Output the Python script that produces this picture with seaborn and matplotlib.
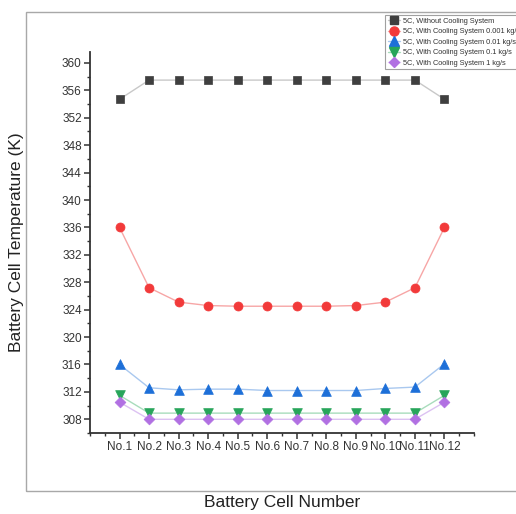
import numpy as np
import pandas as pd
import matplotlib
matplotlib.use("Agg")
import matplotlib.pyplot as plt
from matplotlib.lines import Line2D
from matplotlib.patches import Rectangle
from matplotlib.ticker import MultipleLocator
import seaborn as sns

# Cell labels along the pack
cells = ["No.1", "No.2", "No.3", "No.4", "No.5", "No.6",
         "No.7", "No.8", "No.9", "No.10", "No.11", "No.12"]

# Temperature (K) of each cell at 5C discharge
no_cooling = [354.7, 357.5, 357.5, 357.5, 357.5, 357.5,
              357.5, 357.5, 357.5, 357.5, 357.5, 354.7]
cooling_0001 = [336.0, 327.2, 325.1, 324.6, 324.5, 324.5,
                324.5, 324.5, 324.6, 325.1, 327.2, 336.0]
cooling_001 = [316.0, 312.6, 312.3, 312.4, 312.4, 312.2,
               312.2, 312.2, 312.2, 312.5, 312.7, 316.1]
cooling_01 = [311.5, 308.9, 308.9, 308.9, 308.9, 308.9,
              308.9, 308.9, 308.9, 308.9, 308.9, 311.5]
cooling_1 = [310.5, 308.0, 308.0, 308.0, 308.0, 308.0,
             308.0, 308.0, 308.0, 308.0, 308.0, 310.5]

series_names = ["5C, Without Cooling System",
                "5C, With Cooling System 0.001 kg/s",
                "5C, With Cooling System 0.01 kg/s",
                "5C, With Cooling System 0.1 kg/s",
                "5C, With Cooling System 1 kg/s"]
series_values = [no_cooling, cooling_0001, cooling_001, cooling_01, cooling_1]

# (marker colour, line colour, marker shape, marker size)
styles = [("#3f3f3f", "#c8c8c8", "s", 6.0),
          ("#f23a3a", "#f7a6a6", "o", 6.5),
          ("#1d6fd8", "#a9c8ef", "^", 7.0),
          ("#27a55a", "#a8dcbc", "v", 7.0),
          ("#b170e2", "#dcc2f2", "D", 5.5)]

x_pos = np.arange(1, len(cells) + 1)
frames = []
for name, vals in zip(series_names, series_values):
    frames.append(pd.DataFrame({"pos": x_pos, "temp": vals, "series": name}))
df = pd.concat(frames, ignore_index=True)

sns.set_style("ticks")
plt.rcParams["font.family"] = ["Liberation Sans", "DejaVu Sans"]

fig = plt.figure(figsize=(5.16, 5.14), dpi=100)
ax = fig.add_axes([90 / 516, 1 - 433 / 514, 384 / 516, 381 / 514])

handles = []
for name, (mc, lc, mk, ms) in zip(series_names, styles):
    sub = df[df["series"] == name]
    sns.lineplot(data=sub, x="pos", y="temp", ax=ax, color=lc,
                 linewidth=1.0, legend=False, zorder=2)
    sns.scatterplot(data=sub, x="pos", y="temp", ax=ax, color=mc,
                    marker=mk, s=ms ** 2, edgecolor=mc, linewidth=0.5,
                    legend=False, zorder=3)
    handles.append(Line2D([0], [0], color=lc, lw=1.0, marker=mk,
                          markersize=ms, markerfacecolor=mc,
                          markeredgecolor=mc, label=name))

ax.set_xlim(0, 13)
ax.set_ylim(306, 361.6)
ax.set_xticks(x_pos)
ax.set_xticklabels(cells)
ax.xaxis.set_minor_locator(MultipleLocator(0.5))
ax.set_yticks(np.arange(308, 361, 4))
ax.yaxis.set_minor_locator(MultipleLocator(2))

for side in ("top", "right"):
    ax.spines[side].set_visible(False)
for side in ("left", "bottom"):
    ax.spines[side].set_color("#333333")
    ax.spines[side].set_linewidth(1.3)

ax.tick_params(axis="both", which="major", direction="out", length=4,
               width=1.1, color="#333333", labelsize=8.5, labelcolor="#333333",
               pad=2)
ax.tick_params(axis="both", which="minor", direction="out", length=2.5,
               width=1.0, color="#333333")

ax.set_xlabel("Battery Cell Number", fontsize=12.5, color="#222222")
ax.set_ylabel("Battery Cell Temperature (K)", fontsize=12.5, color="#222222")
ax.xaxis.set_label_coords(0.5, (433 - 495) / 381)
ax.yaxis.set_label_coords((24 - 90) / 384, 0.5)

# outer frame around the plotting area
fig.patches.append(Rectangle((26 / 516, 1 - 491 / 514), 0.99, (491 - 12) / 514,
                             transform=fig.transFigure, fill=False,
                             edgecolor="#a8a8a8", linewidth=1.0, zorder=0))

leg = fig.legend(handles=handles, loc="upper left",
                 bbox_to_anchor=(385 / 516, 1 - 15 / 514),
                 fontsize=5.3, frameon=True, fancybox=False,
                 borderpad=0.35, labelspacing=0.45, handlelength=1.7,
                 handletextpad=0.35, borderaxespad=0)
leg.get_frame().set_edgecolor("#888888")
leg.get_frame().set_linewidth(0.8)
for t in leg.get_texts():
    t.set_color("#333333")

fig.savefig("out.png", dpi=100)
